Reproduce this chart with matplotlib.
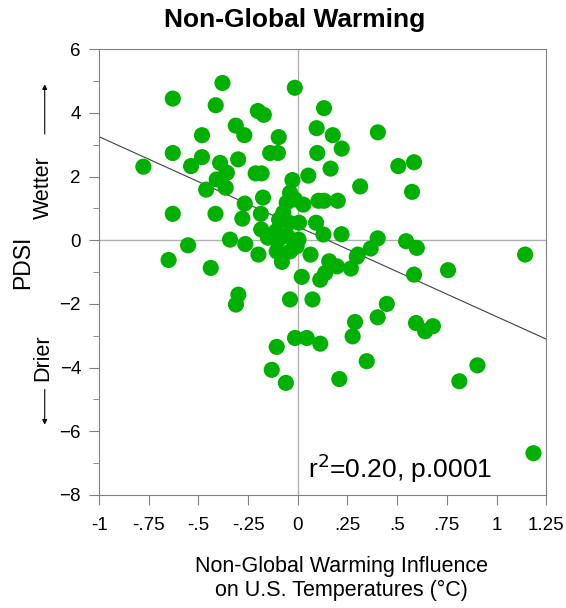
import numpy as np
import matplotlib
matplotlib.use('Agg')
import matplotlib.pyplot as plt
from matplotlib.patches import FancyArrowPatch

plt.rcParams['font.family'] = ['Liberation Sans', 'DejaVu Sans']

# non-global warming influence (C) vs PDSI
influence = [-0.379, -0.015, -0.629, -0.413, -0.201, -0.171, 0.132, -0.312, -0.269, -0.482,
             -0.096, 0.095, 0.176, 0.403, -0.629, -0.139, -0.100, 0.098, 0.221, -0.482,
             -0.537, -0.777, -0.391, -0.300, -0.357, -0.408, -0.363, -0.461, -0.212, -0.182,
             -0.027, 0.053, 0.165, 0.506, 0.585, 0.575, 0.314, -0.267, -0.175, -0.279,
             -0.186, -0.629, -0.414, -0.039, -0.014, -0.056, -0.073, 0.028, 0.104, 0.132,
             0.201, -0.094, -0.044, 0.006, 0.092, -0.184, -0.150, -0.110, -0.052, 0.004,
             0.129, 0.220, -0.264, -0.341, -0.198, -0.106, -0.080, -0.039, -0.006, 0.064,
             0.158, -0.102, 0.367, 0.402, 0.545, 0.599, 1.144, 0.302, -0.552, -0.650,
             -0.438, 0.020, 0.113, 0.138, 0.197, 0.267, 0.297, 0.585, 0.756, -0.039,
             0.074, 0.448, 0.402, 0.288, 0.276, 0.595, 0.641, 0.680, -0.299, -0.311,
             -0.014, 0.045, 0.113, 0.347, 0.209, 0.904, 0.813, 1.186, -0.060, -0.131,
             -0.106]
pdsi = [4.94, 4.79, 4.45, 4.24, 4.06, 3.94, 4.15, 3.60, 3.30, 3.30,
        3.24, 3.52, 3.30, 3.39, 2.74, 2.74, 2.74, 2.74, 2.88, 2.61,
        2.33, 2.31, 2.43, 2.54, 2.12, 1.91, 1.65, 1.59, 2.10, 2.10,
        1.89, 2.03, 2.25, 2.33, 2.45, 1.52, 1.69, 1.15, 1.34, 0.68,
        0.83, 0.83, 0.83, 1.49, 1.28, 1.18, 0.86, 1.12, 1.24, 1.24,
        1.24, 0.65, 0.55, 0.55, 0.55, 0.34, 0.08, 0.28, 0.13, 0.02,
        0.18, 0.19, -0.12, 0.02, -0.45, -0.35, -0.68, -0.35, -0.19, -0.45,
        -0.66, -0.03, -0.26, 0.06, -0.03, -0.24, -0.45, -0.45, -0.16, -0.62,
        -0.87, -1.15, -1.24, -1.03, -0.82, -0.89, -0.52, -1.08, -0.94, -1.86,
        -1.86, -2.00, -2.42, -2.57, -3.02, -2.60, -2.86, -2.70, -1.71, -2.02,
        -3.07, -3.07, -3.25, -3.80, -4.36, -3.93, -4.43, -6.69, -4.48, -4.07,
        -3.35]

xticks = [-1, -0.75, -0.5, -0.25, 0, 0.25, 0.5, 0.75, 1, 1.25]
xticklabels = ['-1', '-.75', '-.5', '-.25', '0', '.25', '.5', '.75', '1', '1.25']
yticks = [-8, -6, -4, -2, 0, 2, 4, 6]

fig = plt.figure(figsize=(5.66, 6.08), dpi=100)
ax = fig.add_axes([0.175, 0.186, 0.79, 0.733])

ax.axhline(0, color='#b0b0b0', lw=1, zorder=1)
ax.axvline(0, color='#b0b0b0', lw=1, zorder=1)

# least squares fit line
slope, icept = np.polyfit(influence, pdsi, 1)
xx = np.array([-1, 1.25])
ax.plot(xx, slope * xx + icept, color='#404040', lw=0.8, zorder=2)

ax.scatter(influence, pdsi, s=135, color='#00b000', edgecolors='none', zorder=3)

ax.set_xlim(-1, 1.25)
ax.set_ylim(-8, 6)
ax.set_xticks(xticks)
ax.set_xticklabels(xticklabels)
ax.set_yticks(yticks)
ax.set_yticks(range(-8, 7), minor=True)
for s in ax.spines.values():
    s.set_color('#808080')
ax.tick_params(which='both', direction='out', colors='#808080', labelcolor='black', labelsize=13.5)
ax.tick_params(which='major', length=7, pad=6)
ax.tick_params(which='minor', length=4)
ax.tick_params(axis='x', pad=9)

ax.text(0.052, -7.15, r'r$^{2}$=0.20, p.0001', fontsize=19, va='center', ha='left')

fig.text(0.604, 0.048, 'Non-Global Warming Influence\non U.S. Temperatures (\u00b0C)',
         fontsize=15.5, ha='center', va='center')
fig.text(0.52, 0.967, 'Non-Global Warming', fontsize=19, fontweight='bold', ha='center', va='center')

fig.text(0.040, 0.569, 'PDSI', fontsize=16.5, rotation=90, ha='center', va='center')
fig.text(0.076, 0.691, 'Wetter', fontsize=15.5, rotation=90, ha='center', va='center')
fig.text(0.076, 0.411, 'Drier', fontsize=15.5, rotation=90, ha='center', va='center')
fig.patches.append(FancyArrowPatch((0.079, 0.775), (0.079, 0.866), transform=fig.transFigure,
                                   arrowstyle='-|>', mutation_scale=7, lw=0.8, color='black'))
fig.patches.append(FancyArrowPatch((0.079, 0.364), (0.079, 0.297), transform=fig.transFigure,
                                   arrowstyle='-|>', mutation_scale=7, lw=0.8, color='black'))

plt.savefig('out.png', dpi=100)
plt.close()
